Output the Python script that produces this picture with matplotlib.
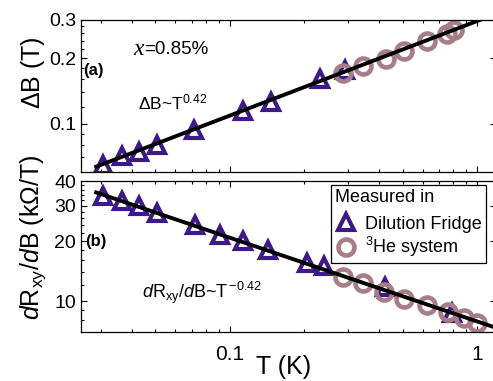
import matplotlib
matplotlib.use('Agg')
import matplotlib.pyplot as plt
from matplotlib.ticker import FixedLocator, NullFormatter, FixedFormatter
import numpy as np

plt.rcParams['font.family'] = ['Liberation Sans', 'DejaVu Sans']
plt.rcParams['mathtext.fontset'] = 'custom'
plt.rcParams['mathtext.rm'] = 'Liberation Sans'
plt.rcParams['mathtext.it'] = 'Liberation Sans:italic'
plt.rcParams['mathtext.bf'] = 'Liberation Sans:bold'

# data
# (a) field width
T_df_a = [0.0307, 0.0366, 0.0428, 0.0508, 0.0717, 0.113, 0.146, 0.231, 0.292]
dB_df = [0.0649, 0.0708, 0.0742, 0.0801, 0.0932, 0.1139, 0.1253, 0.1603, 0.177]
T_he_a = [0.285, 0.344, 0.426, 0.506, 0.628, 0.752, 0.805]
dB_he = [0.171, 0.184, 0.198, 0.216, 0.239, 0.258, 0.270]

# (b) slope dRxy/dB
T_df_b = [0.0308, 0.0366, 0.0428, 0.0505, 0.0722, 0.0911, 0.113, 0.143, 0.204, 0.239, 0.424, 0.790]
dR_df = [33.7, 31.7, 29.9, 27.7, 24.2, 21.4, 19.9, 18.1, 15.6, 15.0, 11.8, 8.67]
T_he_b = [0.285, 0.344, 0.420, 0.506, 0.624, 0.758, 0.886, 1.0]
dR_he = [13.2, 12.3, 11.1, 10.2, 9.55, 8.81, 8.26, 7.80]

# power-law fits
fit_a = (0.297, 0.435)
fit_b = (7.9, -0.42)
T_fit = [0.0288, 1.25]

df_color = '#3e1a86'
he_color = '#a67d88'

fig = plt.figure(figsize=(4.93, 3.81), dpi=100)
ax1 = fig.add_axes([0.1643, 0.5486, 0.842, 0.399])
ax2 = fig.add_axes([0.1643, 0.1286, 0.842, 0.3963])

tri = dict(marker='^', ls='none', ms=11.5, mew=3.0, mfc='none', mec=df_color)
circ = dict(marker='o', ls='none', ms=11.5, mew=3.3, mfc='none', mec=he_color)

tf = np.array(T_fit)
ax1.plot(T_df_a, dB_df, **tri)
ax1.plot(T_he_a, dB_he, **circ)
ax1.plot(tf, fit_a[0] * tf ** fit_a[1], color='black', lw=2.8, zorder=5)

ax2.plot(T_df_b, dR_df, label='Dilution Fridge', **tri)
ax2.plot(T_he_b, dR_he, label='$^3$He system', **circ)
ax2.plot(tf, fit_b[0] * tf ** fit_b[1], color='black', lw=2.8, zorder=5)

for ax in (ax1, ax2):
    ax.set_xscale('log')
    ax.set_yscale('log')
    ax.set_xlim(0.025, 1.19)
    ax.tick_params(which='both', direction='in', top=True, right=True, width=0.8)
    ax.tick_params(which='major', length=4.5)
    ax.tick_params(which='minor', length=2.5)
    ax.xaxis.set_major_locator(FixedLocator([0.1, 1]))
    ax.xaxis.set_minor_locator(FixedLocator([0.03, 0.04, 0.05, 0.06, 0.07, 0.08, 0.09,
                                             0.2, 0.3, 0.4, 0.5, 0.6, 0.7, 0.8, 0.9]))
    ax.xaxis.set_minor_formatter(NullFormatter())
    ax.yaxis.set_minor_formatter(NullFormatter())
    for s in ax.spines.values():
        s.set_linewidth(0.9)

ax1.set_ylim(0.06, 0.3)
ax1.yaxis.set_major_locator(FixedLocator([0.1, 0.2, 0.3]))
ax1.yaxis.set_major_formatter(FixedFormatter(['0.1', '0.2', '0.3']))
ax1.yaxis.set_minor_locator(FixedLocator([0.07, 0.08, 0.09, 0.12, 0.14, 0.16, 0.18,
                                          0.22, 0.24, 0.26, 0.28]))
ax1.xaxis.set_major_formatter(NullFormatter())
ax1.tick_params(axis='y', labelsize=14)

ax2.set_ylim(7, 40)
ax2.yaxis.set_major_locator(FixedLocator([10, 20, 30, 40]))
ax2.yaxis.set_major_formatter(FixedFormatter(['10', '20', '30', '40']))
ax2.yaxis.set_minor_locator(FixedLocator([8, 9, 12, 14, 16, 18, 22, 24, 26, 28,
                                          32, 34, 36, 38]))
ax2.xaxis.set_major_formatter(FixedFormatter(['0.1', '1']))
ax2.tick_params(axis='y', labelsize=14)
ax2.tick_params(axis='x', labelsize=15, pad=9)

fig.text(284 / 493, 7 / 381, 'T (K)', fontsize=18, ha='center', va='baseline')
fig.text(33 / 493, 1 - 73 / 381, r'$\Delta$B (T)', rotation=90, fontsize=18,
         ha='center', va='center')
fig.text(33 / 493, 1 - 237 / 381, r'$\mathit{d}$R$_{\mathrm{xy}}$/$\mathit{d}$B (k$\Omega$/T)',
         rotation=90, fontsize=18, ha='center', va='center')

ax1.text(0.005, 0.667, '(a)', transform=ax1.transAxes, fontsize=12, fontweight='bold',
         va='center')
ax2.text(0.01, 0.60, '(b)', transform=ax2.transAxes, fontsize=12, fontweight='bold',
         va='center')
ax1.text(0.125, 0.805, 'x', transform=ax1.transAxes, fontsize=17, family='Liberation Serif',
         style='italic', va='center')
ax1.text(0.152, 0.805, '=0.85%', transform=ax1.transAxes, fontsize=13.5, va='center')
ax1.text(0.137, 0.455, r'$\Delta$B~T$^{0.42}$', transform=ax1.transAxes, fontsize=12.5,
         va='center')
ax2.text(0.148, 0.26, r'$\mathit{d}$R$_{\mathrm{xy}}$/$\mathit{d}$B~T$^{\,\mathrm{-0.42}}$',
         transform=ax2.transAxes, fontsize=13, va='center')

leg = ax2.legend(title='Measured in', loc='upper right', bbox_to_anchor=(0.975, 0.974),
                 borderaxespad=0, fontsize=13, title_fontsize=13, fancybox=False,
                 edgecolor='black', framealpha=1, handlelength=1.2, handletextpad=0.45,
                 labelspacing=0.12, borderpad=0.22, numpoints=1, alignment='left')
leg.get_frame().set_linewidth(0.9)
# a little more room between the title and the entries
leg._legend_box.sep = 7

plt.savefig('out.png', dpi=100)
plt.close()
